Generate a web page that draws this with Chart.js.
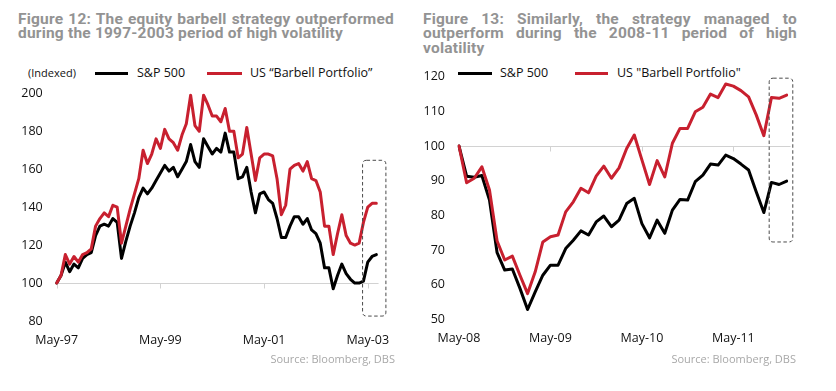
<!DOCTYPE html>
<html><head><meta charset="utf-8">
<script src="https://cdn.jsdelivr.net/npm/chart.js@4.4.1/dist/chart.umd.min.js"></script>
<style>
html,body{margin:0;padding:0;background:#fff}
body{width:836px;height:391px;position:relative;overflow:hidden;font-family:'Open Sans',sans-serif}
canvas{position:absolute;top:0}
.title{position:absolute;top:11.6px;font-weight:700;color:#939393;line-height:14.7px;font-family:Roboto,sans-serif;letter-spacing:0.2px;font-size:13px}
.title div{white-space:nowrap}
.title div.j{text-align:justify;text-align-last:justify;white-space:normal}
.lg{position:absolute;font-size:12.5px;color:#111;line-height:16px;top:65px;white-space:nowrap}
.bar{position:absolute;height:3.5px;top:71.5px}
.src{position:absolute;top:351px;font-size:11px;color:#a8a8a8;line-height:16px;white-space:nowrap}
</style></head>
<body>
<div id="t1" class="title" style="left:18px;width:376px">
  <div class="j">Figure 12: The equity barbell strategy outperformed</div>
  <div><span id="m1">during the 1997-2003 period of high volatility</span></div>
</div>
<div id="t2" class="title" style="left:423px;width:374px">
  <div class="j">Figure 13: Similarly, the strategy managed to</div>
  <div class="j">outperform during the 2008-11 period of high</div>
  <div>volatility</div>
</div>

<div class="lg" style="left:28px;font-size:11px">(Indexed)</div>
<div class="bar" style="left:95px;width:33px;background:#000"></div>
<div class="lg" id="l1a" style="left:137px"></div>
<div class="bar" style="left:207px;width:35px;background:#c8202f"></div>
<div class="lg" id="l1b" style="left:250px"></div>

<div class="bar" style="left:458px;width:34px;background:#000"></div>
<div class="lg" id="l2a" style="left:500px"></div>
<div class="bar" style="left:575px;width:33px;background:#c8202f"></div>
<div class="lg" id="l2b" style="left:617px"></div>

<canvas id="c1" width="418" height="391" style="left:0"></canvas>
<canvas id="c2" width="418" height="391" style="left:418px"></canvas>

<div class="src" style="right:441px">Source: Bloomberg, DBS</div>
<div class="src" style="right:40px">Source: Bloomberg, DBS</div>

<script>
// ---------- DATA ----------
const seriesNames1 = ['S&P 500', 'US \u201CBarbell Portfolio\u201D'];
const seriesNames2 = ['S&P 500', 'US "Barbell Portfolio"'];

// Figure 12: monthly, May-97 .. Jul-03
const leftStart = [1997, 4];
const leftSP500 = [100,104,111,106,110,108,113,115,116,125,
  130,131,130,134,132,113,122,130,137,145,
  150,147,150,154,158,162,159,161,156,160,
  164,173,164,161,176,172,168,171,169,179,
  169,169,155,156,161,148,137,147,148,144,
  142,134,124,124,130,135,135,131,134,128,
  126,121,108,108,97,104,110,105,102,100,
  100,101,111,114,115];
const leftBarbell = [100,104,115,110,114,111,115,116,118,130,
  134,137,135,141,140,121,130,139,147,155,
  170,163,168,176,171,181,176,174,170,178,
  184,199,183,180,199,194,188,188,185,192,
  180,180,166,168,182,168,154,166,168,168,
  167,155,136,141,160,162,163,159,164,155,
  154,148,130,130,115,126,136,125,121,120,
  121,132,140,142,142];
const leftTickLabels = ['May-97','May-99','May-01','May-03'];

// Figure 13: monthly, May-08 .. Dec-11
const rightStart = [2008, 4];
const rightSP500 = [100,91.3,91,91.5,84.4,69.2,64.2,64.5,58.9,52.8,
  57.9,62.7,65.6,65.6,70.4,72.8,75.5,74.3,78.1,79.8,
  76.7,78.6,83.4,84.9,77.6,73.5,78.6,74.8,81.5,84.6,
  84.4,89.7,91.6,94.8,94.5,97.4,96.4,94.8,93.1,86.8,
  80.8,89.5,88.9,89.9];
const rightBarbell = [100,89.4,90.7,94.0,87.3,72.6,67.1,68.2,62.7,57.4,
  63.7,72.3,73.8,74.3,81.0,83.9,87.8,86.5,91.3,94.2,
  90.7,93.7,99.3,103.2,96.0,88.9,95.8,91.1,100.8,105.1,
  105.1,109.9,111.2,115.0,114.0,117.9,117.3,116.0,114.2,109.0,
  103.0,114.0,113.8,114.7];
const rightTickLabels = ['May-08','May-09','May-10','May-11'];

// ---------- helpers ----------
const MON = ['Jan','Feb','Mar','Apr','May','Jun','Jul','Aug','Sep','Oct','Nov','Dec'];
function monthLabels(start, n) {
  const out = [];
  for (let k = 0; k < n; k++) {
    const m = (start[1] + k) % 12, yr = start[0] + Math.floor((start[1] + k) / 12);
    out.push(MON[m] + '-' + String(yr % 100).padStart(2, '0'));
  }
  return out;
}
const leftCategories = monthLabels(leftStart, leftSP500.length);
const rightCategories = monthLabels(rightStart, rightSP500.length);

document.getElementById('l1a').textContent = seriesNames1[0];
document.getElementById('l1b').textContent = seriesNames1[1];
document.getElementById('l2a').textContent = seriesNames2[0];
document.getElementById('l2b').textContent = seriesNames2[1];

(function fitTitles(){
  const t1 = document.getElementById('t1'), t2 = document.getElementById('t2');
  const m1 = document.getElementById('m1');
  const w13 = m1.getBoundingClientRect().width;
  let fs = 13 * 327 / w13;
  fs = Math.max(11, Math.min(16, Math.round(fs * 100) / 100));
  t1.style.fontSize = fs + 'px';
  t2.style.fontSize = fs + 'px';
  [[t1.children[0], 376], [t2.children[0], 374], [t2.children[1], 374]].forEach(([el, w]) => {
    const s = document.createElement('span');
    s.textContent = el.textContent;
    el.textContent = '';
    el.appendChild(s);
    el.style.whiteSpace = 'nowrap';
    el.style.textAlign = 'left';
    el.style.textAlignLast = 'left';
    const n0 = s.getBoundingClientRect().width;
    const ls = Math.min(0.2, 0.2 + (w - 2 - n0) / s.textContent.length);
    el.style.letterSpacing = ls + 'px';
    el.style.whiteSpace = '';
    el.style.textAlign = '';
    el.style.textAlignLast = '';
  });
})();

const RED = '#c8202f', BLACK = '#000000';
Chart.defaults.font.family = "'Open Sans', sans-serif";
Chart.defaults.color = '#1a1a1a';

const baselinePlugin = {
  id: 'baseline',
  beforeDatasetsDraw(chart, args, opts) {
    const {ctx, chartArea, scales: {x, y}} = chart;
    const py = Math.round(y.getPixelForValue(opts.value)) + 0.5;
    const half = (x.getPixelForValue(1) - x.getPixelForValue(0)) / 2;
    ctx.save();
    ctx.strokeStyle = '#d2d2d2';
    ctx.lineWidth = 1;
    ctx.beginPath();
    ctx.moveTo(chartArea.left - 1, py);
    ctx.lineTo(chartArea.right + half, py);
    const labels = chart.data.labels;
    opts.ticks.forEach(t => {
      const i = labels.indexOf(t);
      if (i < 0) return;
      const px = Math.round(x.getPixelForValue(i)) + 0.5;
      ctx.moveTo(px, py);
      ctx.lineTo(px, py + 5);
    });
    ctx.stroke();
    ctx.restore();
  }
};

const boxPlugin = {
  id: 'hlbox',
  afterDatasetsDraw(chart, args, opts) {
    const {ctx, scales: {x, y}} = chart;
    const x0 = x.getPixelForValue(opts.x0), x1 = x.getPixelForValue(opts.x1);
    const y0 = y.getPixelForValue(opts.y1), y1 = y.getPixelForValue(opts.y0);
    const r = 4;
    ctx.save();
    ctx.strokeStyle = '#4a4a4a';
    ctx.lineWidth = 1;
    ctx.setLineDash([3.5, 2.5]);
    ctx.beginPath();
    ctx.moveTo(x0 + r, y0);
    ctx.lineTo(x1 - r, y0); ctx.quadraticCurveTo(x1, y0, x1, y0 + r);
    ctx.lineTo(x1, y1 - r); ctx.quadraticCurveTo(x1, y1, x1 - r, y1);
    ctx.lineTo(x0 + r, y1); ctx.quadraticCurveTo(x0, y1, x0, y1 - r);
    ctx.lineTo(x0, y0 + r); ctx.quadraticCurveTo(x0, y0, x0 + r, y0);
    ctx.closePath();
    ctx.stroke();
    ctx.restore();
  }
};

function makeChart(id, cats, sp, bb, names, tickLabels, yMin, yMax, yStep, yW, pad, box) {
  return new Chart(document.getElementById(id), {
    type: 'line',
    data: {
      labels: cats,
      datasets: [
        {label: names[0], data: sp, borderColor: BLACK, backgroundColor: BLACK, borderWidth: 3,
         pointRadius: 0, tension: 0, borderJoinStyle: 'round', borderCapStyle: 'round', order: 2},
        {label: names[1], data: bb, borderColor: RED, backgroundColor: RED, borderWidth: 3,
         pointRadius: 0, tension: 0, borderJoinStyle: 'round', borderCapStyle: 'round', order: 1}
      ]
    },
    options: {
      responsive: false,
      animation: false,
      devicePixelRatio: 1,
      layout: {padding: pad},
      plugins: {
        legend: {display: false},
        tooltip: {enabled: false},
        baseline: {value: 100, ticks: tickLabels},
        hlbox: box
      },
      scales: {
        x: {
          type: 'category',
          offset: false,
          grid: {display: false, drawTicks: false},
          border: {display: false},
          ticks: {
            autoSkip: false, maxRotation: 0, minRotation: 0, padding: 12,
            font: {size: 12.5}, color: '#111',
            callback(v) { const l = this.getLabelForValue(v); return tickLabels.includes(l) ? l : ''; }
          },
          afterFit(s) { s.height = 30; }
        },
        y: {
          min: yMin, max: yMax,
          grid: {display: false, drawTicks: false},
          border: {display: false},
          ticks: {stepSize: yStep, padding: 14, font: {size: 12.5}, color: '#111'},
          afterFit(s) { s.width = yW; }
        }
      }
    },
    plugins: [baselinePlugin, boxPlugin]
  });
}

makeChart('c1', leftCategories, leftSP500, leftBarbell, seriesNames1, leftTickLabels,
  80, 200, 20, 40, {left: 16.7, right: 41.6, top: 93.3, bottom: 40},
  {x0: 70.8, x1: 76.2, y0: 82.6, y1: 164.7});
makeChart('c2', rightCategories, rightSP500, rightBarbell, seriesNames2, rightTickLabels,
  50, 120, 10, 35, {left: 6, right: 49.3, top: 76.8, bottom: 41.8},
  {x0: 40.7, x1: 43.8, y0: 72.3, y1: 119.6});
</script>
</body></html>
